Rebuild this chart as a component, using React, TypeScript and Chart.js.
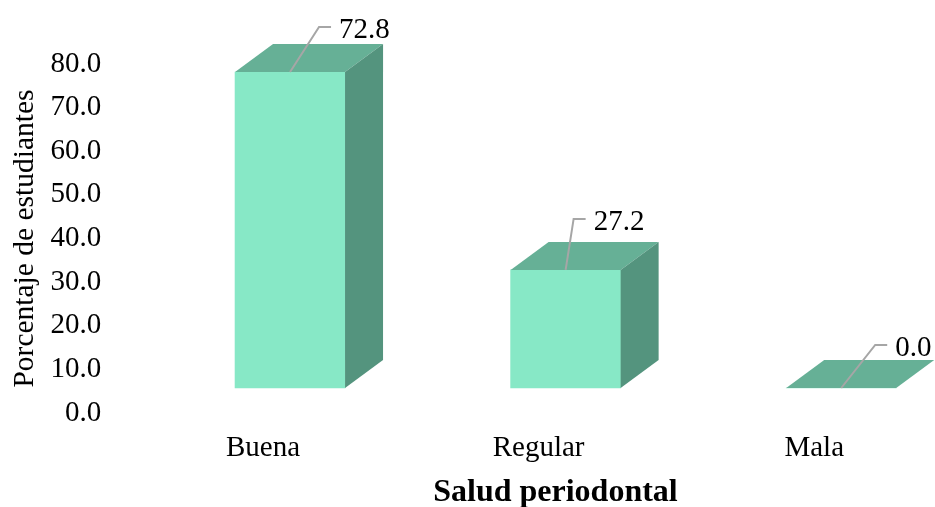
import React, { useEffect, useRef } from "react";
import { Chart, registerables } from "chart.js";

Chart.register(...registerables);

const categories = ["Buena", "Regular", "Mala"];
const values = [72.8, 27.2, 0.0];
const yTicks = [0, 10, 20, 30, 40, 50, 60, 70, 80];
const xTitle = "Salud periodontal";
const yTitle = "Porcentaje de estudiantes";

const FRONT = "#87E8C6";
const TOP = "#66B096";
const SIDE = "#54947E";
const LEADER = "#A6A6A6";
const FONT = "'Liberation Serif', 'Times New Roman', serif";
const DEPTH_X = 38;
const DEPTH_Y = 28;
const ELBOWS = [
  [29, -45],
  [8, -51],
  [34, -43],
];

const box3d = {
  id: "box3d",
  afterDatasetsDraw(chart: any) {
    const { ctx } = chart;
    const meta = chart.getDatasetMeta(0);
    ctx.save();
    meta.data.forEach((bar: any, i: number) => {
      const half = bar.width / 2;
      const l = bar.x - half;
      const r = bar.x + half;
      const t = bar.y;
      const b = bar.base;
      ctx.fillStyle = TOP;
      ctx.beginPath();
      ctx.moveTo(l, t);
      ctx.lineTo(l + DEPTH_X, t - DEPTH_Y);
      ctx.lineTo(r + DEPTH_X, t - DEPTH_Y);
      ctx.lineTo(r, t);
      ctx.closePath();
      ctx.fill();
      if (b - t > 0.5) {
        ctx.fillStyle = SIDE;
        ctx.beginPath();
        ctx.moveTo(r, t);
        ctx.lineTo(r + DEPTH_X, t - DEPTH_Y);
        ctx.lineTo(r + DEPTH_X, b - DEPTH_Y);
        ctx.lineTo(r, b);
        ctx.closePath();
        ctx.fill();
      }
      const [ex, ey] = ELBOWS[i];
      const sx = bar.x;
      ctx.strokeStyle = LEADER;
      ctx.lineWidth = 2;
      ctx.beginPath();
      ctx.moveTo(sx, t);
      ctx.lineTo(sx + ex, t + ey);
      ctx.lineTo(sx + ex + 12, t + ey);
      ctx.stroke();
      ctx.fillStyle = "#000";
      ctx.font = `29px ${FONT}`;
      ctx.textAlign = "left";
      ctx.textBaseline = "middle";
      ctx.fillText(values[i].toFixed(1), sx + ex + 20, t + ey + 3);
    });
    ctx.fillStyle = "#000";
    ctx.font = `bold 32px ${FONT}`;
    ctx.textAlign = "center";
    ctx.textBaseline = "middle";
    ctx.fillText(xTitle, 555.5, 493);
    ctx.restore();
  },
};

export default function App() {
  const ref = useRef<HTMLCanvasElement>(null);
  useEffect(() => {
    const chart = new Chart(ref.current!, {
      type: "bar",
      data: {
        labels: categories,
        datasets: [
          {
            data: values,
            backgroundColor: FRONT,
            borderWidth: 0,
            barThickness: 110,
            yAxisID: "bars",
          },
        ],
      },
      plugins: [box3d],
      options: {
        responsive: false,
        animation: false,
        layout: { padding: { top: 64, left: 0, right: 0, bottom: 0 } },
        plugins: { legend: { display: false }, tooltip: { enabled: false } },
        scales: {
          x: {
            grid: { display: false },
            border: { display: false },
            ticks: {
              color: "#000",
              font: { family: FONT, size: 29 },
              labelOffset: -27,
              padding: 10,
              maxRotation: 0,
            },
            afterFit: (s: any) => {
              s.height = 94;
            },
          },
          y: {
            position: "left",
            min: 0,
            max: 80,
            afterBuildTicks: (s: any) => {
              s.ticks = yTicks.map((value) => ({ value }));
            },
            grid: { display: false },
            border: { display: false },
            ticks: {
              color: "#000",
              font: { family: FONT, size: 29 },
              padding: 43,
              callback: (v: any) => Number(v).toFixed(1),
            },
            title: {
              display: true,
              text: yTitle,
              color: "#000",
              font: { family: FONT, size: 29.5 },
              padding: { top: 8, bottom: 0 },
            },
            afterFit: (s: any) => {
              s.width = 152.25;
            },
          },
          bars: {
            display: false,
            position: "left",
            min: -5.76,
            max: 74.65,
          },
        },
      },
    } as any);
    return () => chart.destroy();
  }, []);
  return (
    <div style={{ position: "fixed", left: 0, top: 0, width: 935, height: 507, overflow: "hidden", background: "#fff" }}>
      <canvas ref={ref} width={979} height={507} style={{ display: "block" }} />
    </div>
  );
}
